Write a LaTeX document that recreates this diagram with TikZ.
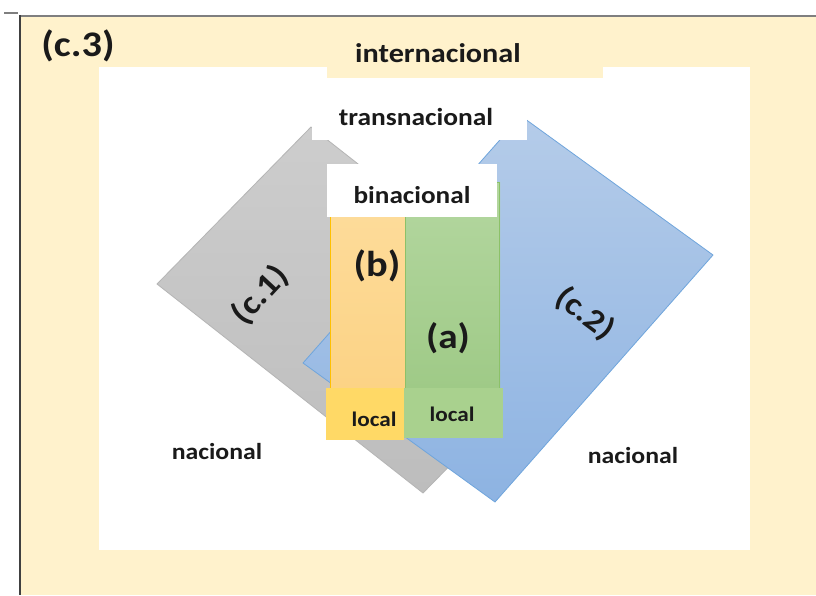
\documentclass[tikz,border=0pt]{standalone}
\usepackage{fontspec}
\setmainfont{Carlito}[FakeStretch=1.12]
\newcommand\diafs[1]{\fontsize{#1}{#1}\selectfont}
\definecolor{pageyellow}{HTML}{FFF2CC}
\definecolor{framegray}{HTML}{7F7F7F}
\definecolor{framedark}{HTML}{404040}
\definecolor{grayhi}{HTML}{CDCDCD}
\definecolor{graylo}{HTML}{BDBDBD}
\definecolor{grayedge}{HTML}{B5B5B5}
\definecolor{bluehi}{HTML}{B5CCE9}
\definecolor{bluelo}{HTML}{8DB3E2}
\definecolor{blueedge}{HTML}{6FA5DC}
\definecolor{orangehi}{HTML}{FDDB99}
\definecolor{orangelo}{HTML}{FCD385}
\definecolor{orangeedge}{HTML}{FFC000}
\definecolor{greenhi}{HTML}{B4D7A0}
\definecolor{greenlo}{HTML}{9FCA87}
\definecolor{greenedge}{HTML}{8CC168}
\definecolor{localyellow}{HTML}{FFD966}
\definecolor{localgreen}{HTML}{A9D18E}
\definecolor{ink}{HTML}{1A1A1A}
\begin{document}
\begin{tikzpicture}[x=1pt,y=-1pt,
  lbl/.style={font=\bfseries, text=ink, inner sep=0pt},
  whitebox/.style={fill=white},
  thin edge/.style={line width=0.8pt}]
\useasboundingbox (0,0) rectangle (816,595);
\fill[white] (0,0) rectangle (816,595);

% page background and frame
\fill[pageyellow] (21,17) rectangle (816,595);
\draw[framegray, line width=1.5pt] (4,13) -- (18,13);
\draw[framegray, line width=2.5pt] (19,16) -- (816,16);
\draw[framedark, line width=2pt] (20,15) -- (20,595);

% white panel with the label notch
\fill[white] (99,67) rectangle (750,550);
\fill[pageyellow] (327,40) rectangle (603,78);

% grey region (c.1)
\coordinate (gT) at (311,127);
\coordinate (gL) at (157,284);
\coordinate (gB) at (423,493);
\coordinate (gR) at (577,336);
\shade[top color=grayhi, bottom color=graylo] (gT) -- (gL) -- (gB) -- (gR) -- cycle;
\draw[grayedge, thin edge, line join=round] (gT) -- (gL) -- (gB) -- (gR) -- cycle;

% blue region (c.2)
\coordinate (bT) at (521,116);
\coordinate (bL) at (303,363);
\coordinate (bB) at (495,502);
\coordinate (bR) at (713,255);
\shade[top color=bluehi, bottom color=bluelo] (bT) -- (bL) -- (bB) -- (bR) -- cycle;
\draw[blueedge, thin edge, line join=round] (bT) -- (bL) -- (bB) -- (bR) -- cycle;

% columns (b) and (a)
\shade[top color=orangehi, bottom color=orangelo] (330,217) rectangle (405,388);
\draw[orangeedge, thin edge] (330.5,217) -- (330.5,388);
\shade[top color=greenhi, bottom color=greenlo] (405,182) rectangle (500,388);
\draw[greenedge, thin edge] (405,388) -- (405,182) -- (499.5,182) -- (499.5,388);

% local boxes
\fill[localyellow] (326,388) rectangle (404,440);
\fill[localgreen] (404,388) rectangle (503,438);

% upper label boxes
\fill[whitebox] (312,95) rectangle (527,140);
\fill[whitebox] (327,164) rectangle (497,217);

% labels
\node[lbl, font=\bfseries\diafs{36}] (c3) at (78,46) {(c.3)};
\node[lbl, font=\bfseries\diafs{27}] (intl) at (438,53) {internacional};
\node[lbl, font=\bfseries\diafs{24.5}] (trans) at (416,117) {transnacional};
\node[lbl, font=\bfseries\diafs{24.3}] (bin) at (412,195) {binacional};
\node[lbl, font=\bfseries\diafs{36}] (b) at (377,266) {(b)};
\node[lbl, font=\bfseries\diafs{35}] (a) at (448,338) {(a)};
\node[lbl, font=\bfseries\diafs{20.7}] (locb) at (374,419) {local};
\node[lbl, font=\bfseries\diafs{20.7}] (loca) at (452,414) {local};
\node[lbl, font=\bfseries\diafs{23}] (nacl) at (217,452) {nacional};
\node[lbl, font=\bfseries\diafs{23}] (nacr) at (633,456) {nacional};
\node[lbl, font=\bfseries\diafs{33}, rotate=47] (c1) at (260,295) {(c.1)};
\node[lbl, font=\bfseries\diafs{32}, rotate=-37] (c2) at (585,314) {(c.2)};
\end{tikzpicture}
\end{document}
